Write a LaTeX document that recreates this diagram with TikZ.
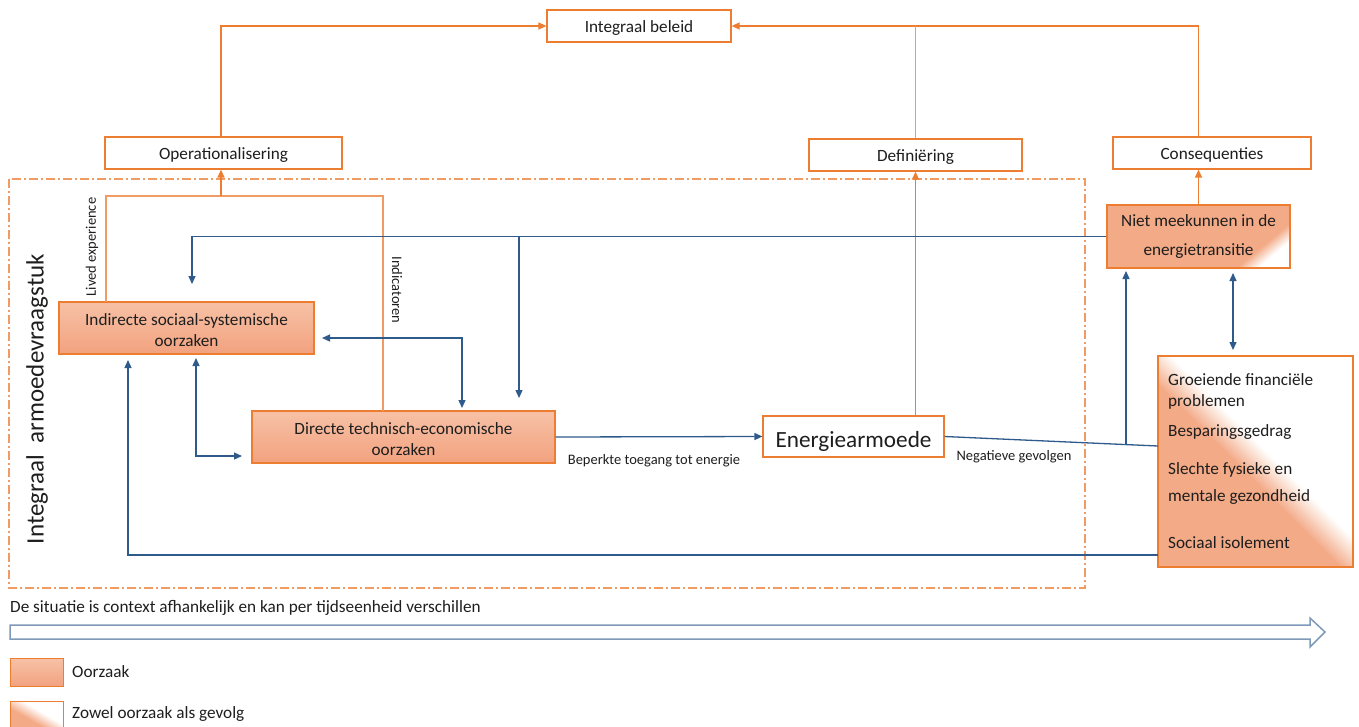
\documentclass[tikz,border=0pt]{standalone}
\usepackage{fontspec}
\setmainfont{Carlito}
\usetikzlibrary{arrows.meta,calc}
\definecolor{oborder}{HTML}{ED7D31}
\definecolor{oline}{HTML}{F09A64}
\definecolor{otop}{HTML}{F7C1A6}
\definecolor{obot}{HTML}{F2A27F}
\definecolor{ofill}{HTML}{F3AA86}
\definecolor{bline}{HTML}{2F5B8C}
\definecolor{garrow}{HTML}{7F9AB8}
\definecolor{txt}{HTML}{1E1E1E}
\pgfdeclarehorizontalshading{diagwide}{100bp}{color(0bp)=(ofill); color(47.5bp)=(ofill); color(52.5bp)=(white); color(100bp)=(white)}
\pgfdeclarehorizontalshading{diagcorner}{100bp}{color(0bp)=(ofill); color(62bp)=(ofill); color(65.5bp)=(white); color(100bp)=(white)}
\pgfdeclarehorizontalshading{diaglegend}{100bp}{color(0bp)=(ofill); color(46bp)=(ofill); color(54bp)=(white); color(100bp)=(white)}
\newcommand{\fmain}{\fontsize{17.2}{21}\selectfont}
\newcommand{\fsmall}{\fontsize{14.5}{17}\selectfont}
\newcommand{\fbig}{\fontsize{23.2}{27}\selectfont}
\newcommand{\fside}{\fontsize{25}{29}\selectfont}
\tikzset{
  wbox/.style={draw=oborder, line width=1.2pt, fill=white, inner sep=0pt, font=\fmain, text=txt, text height=17pt, text depth=3.4pt},
  obox/.style={draw=oborder, line width=1.2pt, top color=otop, bottom color=obot, inner sep=0pt},
  diagfill/.style n args={3}{draw=oborder, line width=1.2pt, inner sep=0pt, text=txt, align=center,
    path picture={
      \shade[shading=#1, transform canvas={rotate around={#2:(path picture bounding box.center)}}]
        ($(path picture bounding box.center)+(-#3,-#3)$) rectangle ($(path picture bounding box.center)+(#3,#3)$);
    }},
  ol/.style={draw=oline, line width=1.3pt},
  bl/.style={draw=bline, line width=1.3pt},
  lbl/.style={font=\fsmall, text=txt, inner sep=0pt},
  btxt/.style={font=\fmain, text=txt, inner sep=0pt, align=center},
  >={Triangle[length=8pt,width=7pt]}
}
\begin{document}
\begin{tikzpicture}[x=1pt,y=-1pt]
\useasboundingbox (0,0) rectangle (1359,726);
% frame
\draw[draw=oline, line width=1.2pt, dash pattern=on 9pt off 3pt on 2pt off 3pt] (9,179) rectangle (1085,588);
% top nodes
\node[wbox, minimum width=184pt, minimum height=32pt] (ib) at (639,26) {Integraal beleid};
\node[wbox, minimum width=237pt, minimum height=32pt] (ops) at (223.5,153) {Operationalisering};
\node[wbox, minimum width=213pt, minimum height=32pt] (def) at (915.5,155) {Definiëring};
\node[wbox, minimum width=198pt, minimum height=32pt] (con) at (1212,153) {Consequenties};
% main nodes
\node[obox, minimum width=255pt, minimum height=52pt] (ind) at (186.5,328) {};
\node[btxt] (indT) at ($(ind.center)+(0,2.5)$) {Indirecte sociaal-systemische\\oorzaken};
\node[obox, minimum width=303pt, minimum height=52pt] (dir) at (403.5,437) {};
\node[btxt] (dirT) at ($(dir.center)+(0,2.5)$) {Directe technisch-economische\\oorzaken};
\node[wbox, font=\fbig, text height=22pt, text depth=0pt, minimum width=181pt, minimum height=41pt] (en) at (853.5,436.5) {Energiearmoede};
\node[diagfill={diagcorner}{-50}{100}, minimum width=183pt, minimum height=63pt, font={\fontsize{17.2}{29}\selectfont}] (niet) at (1198.5,236.5) {Niet meekunnen in de\\energietransitie};
\node[diagfill={diagwide}{45}{150}, minimum width=195pt, minimum height=211pt] (gro) at (1255.5,461.5) {};
\node[lbl, font=\fmain, anchor=west, align=left] (g1) at (1168,391.5) {Groeiende financiële\\problemen};
\node[lbl, font=\fmain, anchor=west] (g2) at (1168,432) {Besparingsgedrag};
\node[lbl, font={\fontsize{17.2}{27}\selectfont}, anchor=west, align=left] (g3) at (1168,483.5) {Slechte fysieke en\\mentale gezondheid};
\node[lbl, font=\fmain, anchor=west] (g4) at (1168,543) {Sociaal isolement};
% labels
\node[lbl, rotate=90] (le) at (92,247) {Lived experience};
\node[lbl, rotate=-90] (ic) at (397,290) {Indicatoren};
\node[lbl] (bt) at (654,461) {Beperkte toegang tot energie};
\node[lbl] (ng) at (1014,457) {Negatieve gevolgen};
\node[lbl, font=\fside, rotate=90] (iav) at (37,399) {Integraal\ \ armoedevraagstuk};
% coordinates
\coordinate (oA) at (106,302);
\coordinate (oB) at (106,196);
\coordinate (oC) at (383,196);
\coordinate (oD) at (383,411);
\coordinate (oM) at (221,196);
\coordinate (oMx) at (221,0);
\coordinate (cx) at (1198.5,0);
\coordinate (ka) at (192,284);
\coordinate (kbt) at (519,236.5);
\coordinate (kb) at (519,398);
\coordinate (c1) at (322,338);
\coordinate (c2) at (462,408);
\coordinate (d1) at (196,358);
\coordinate (d2) at (242,456);
\coordinate (e2) at (1158,446);
\coordinate (e1) at (1126,444.6);
\coordinate (e3) at (1126,271);
\coordinate (h1) at (1233,273);
\coordinate (h2) at (1233,350);
\coordinate (f1) at (1158,555);
\coordinate (f2) at (128,360);
% orange connectors
\draw[ol] (oA) -- (oB) -- (oC) -- (oD);
\draw[ol, ->, color=oborder] (oM) -- (oM |- ops.south);
\draw[ol, ->, color=oborder] (ops.north -| oMx) |- (ib.west);
\draw[ol, ->, color=oborder] (con.north -| cx) |- (ib.east);
\draw[ol] (def.north) -- (def.north |- ib.east);
\draw[ol, ->, color=oborder] (en.north -| def.south) -- (def.south);
\draw[ol, ->, color=oborder] (niet.north) -- (niet.north |- con.south);
% blue connectors
\draw[bl, ->, color=bline] (niet.west) -| (ka);
\draw[bl, ->, color=bline] (kbt) -- (kb);
\draw[bl, <->, color=bline] (c1) -| (c2);
\draw[bl, <->, color=bline] (d1) |- (d2);
\draw[bl, ->, color=bline] (dir.east) -- (en.west);
\draw[bl] (en.east) -- (e2);
\draw[bl, ->, color=bline] (e1) -- (e3);
\draw[bl, <->, color=bline] (h1) -- (h2);
\draw[bl, ->, color=bline] (f1) -| (f2);
% bottom
\node[lbl, font=\fmain, anchor=west] (sit) at (10,608) {De situatie is context afhankelijk en kan per tijdseenheid verschillen};
\draw[draw=garrow, line width=1.5pt, fill=white] (10,625) -- (1310,625) -- (1310,618) -- (1325,632) -- (1310,647) -- (1310,639) -- (10,639) -- cycle;
% legend
\node[obox, minimum width=53pt, minimum height=28pt, anchor=north west] (lg1) at (10,658) {};
\node[lbl, font=\fmain, anchor=west] (lt1) at (72,672) {Oorzaak};
\node[diagfill={diaglegend}{60}{40}, minimum width=53pt, minimum height=30pt, anchor=north west] (lg2) at (10,701) {};
\node[lbl, font=\fmain, anchor=west] (lt2) at (72,714) {Zowel oorzaak als gevolg};
\end{tikzpicture}
\end{document}
